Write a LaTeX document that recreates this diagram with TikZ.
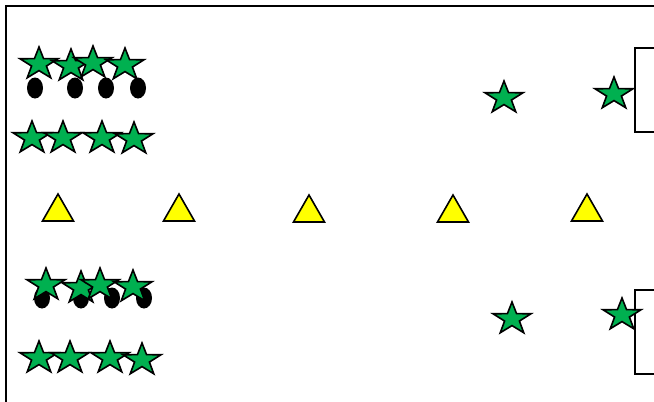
\documentclass[tikz,border=0pt]{standalone}
\definecolor{stargreen}{RGB}{0,176,80}
\definecolor{triyellow}{RGB}{255,255,0}
\tikzset{
  outl/.style={draw=black, line width=1.6pt, line join=miter},
  gstar/.pic={\path[outl, fill=stargreen]
     (-90:20 and 17) -- (-54:7.8 and 6.6) -- (-18:20 and 17) -- (18:7.8 and 6.6)
     -- (54:20 and 17) -- (90:7.8 and 6.6) -- (126:20 and 17) -- (162:7.8 and 6.6)
     -- (198:20 and 17) -- (234:7.8 and 6.6) -- cycle;},
  ytri/.pic={\path[outl, fill=triyellow] (0,-14) -- (15.5,13) -- (-15.5,13) -- cycle;},
  dot/.style={fill=black, draw=none},
  box/.style={draw=black, line width=2pt}
}
\begin{document}
\begin{tikzpicture}[x=1pt,y=-1pt]
\useasboundingbox (0,0) rectangle (654,402);
\clip (0,0) rectangle (654,402);
\fill[white] (0,0) rectangle (654,402);
% frame
\draw[box] (6,6) rectangle (700,450);
% right boxes
\draw[box] (635,48) rectangle (700,132);
\draw[box] (635,290) rectangle (700,374);
% ellipses top group
\foreach \x in {35,75,106,138} \fill[dot] (\x,88) ellipse (8 and 10.5);
% ellipses bottom group
\foreach \x in {42,81,112,144} \fill[dot] (\x,298) ellipse (8 and 10.5);
% stars top group
\pic at (39,64) {gstar};
\pic at (71,66) {gstar};
\pic at (93,63) {gstar};
\pic at (125,65) {gstar};
\pic at (32,138) {gstar};
\pic at (63,138) {gstar};
\pic at (102,138) {gstar};
\pic at (134,139) {gstar};
% stars bottom group
\pic at (46,285) {gstar};
\pic at (81,288) {gstar};
\pic at (100,285) {gstar};
\pic at (133,287) {gstar};
\pic at (39,358) {gstar};
\pic at (70,358) {gstar};
\pic at (110,358) {gstar};
\pic at (142,360) {gstar};
% right stars
\pic at (504,98) {gstar};
\pic at (614,94) {gstar};
\pic at (512,319) {gstar};
\pic at (622,315) {gstar};
% triangles
\pic at (58,208) {ytri};
\pic at (179,208) {ytri};
\pic at (309,209) {ytri};
\pic at (453,209) {ytri};
\pic at (587,208) {ytri};
\end{tikzpicture}
\end{document}
